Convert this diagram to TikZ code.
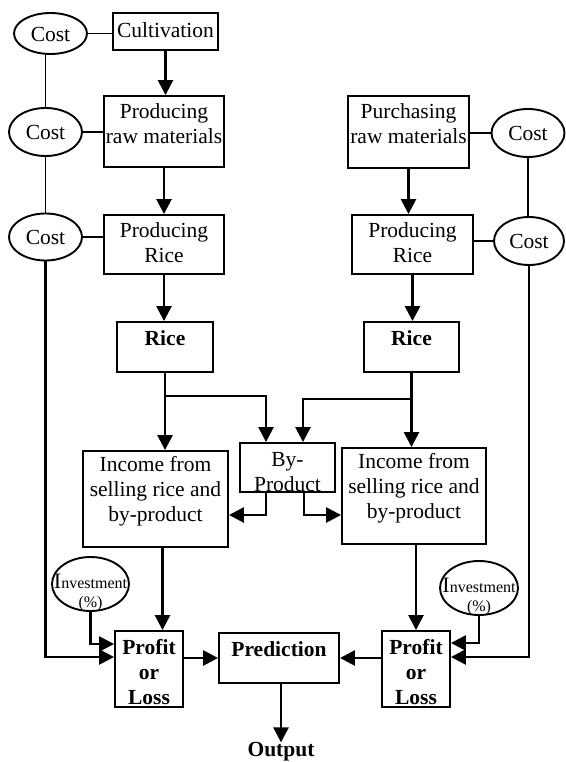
\documentclass[tikz,border=0pt]{standalone}
\usepackage{fontspec}
\setmainfont{Liberation Serif}
\usetikzlibrary{arrows.meta,shapes.geometric}
\begin{document}
\begin{tikzpicture}[x=1pt,y=-1pt,
  box/.style={draw,line width=1.9pt,inner sep=0pt},
  oval/.style={draw,ellipse,line width=1.9pt,inner sep=0pt},
  txt/.style={align=center,inner sep=0pt,font=\fontsize{21.5}{25}\selectfont},
  btxt/.style={align=center,inner sep=0pt,font=\fontsize{21.5}{25}\selectfont\bfseries},
  itxt/.style={align=center,inner sep=0pt,font=\fontsize{16}{19}\selectfont},
  arr/.style={line width=2.6pt,-{Triangle[length=15pt,width=15pt]}},
  ln/.style={line width=1.9pt}]
\useasboundingbox (0,0) rectangle (565,762);
% boxes
\node[box,minimum width=105pt,minimum height=37pt] (cult) at (165.5,31.5) {};
\node[box,minimum width=120pt,minimum height=71pt] (rawL) at (164,131.5) {};
\node[box,minimum width=120pt,minimum height=59pt] (prL) at (164,244.5) {};
\node[box,minimum width=96pt,minimum height=50pt] (riceL) at (165,347) {};
\node[box,minimum width=145pt,minimum height=96pt] (incL) at (155.5,499) {};
\node[box,minimum width=95pt,minimum height=49pt] (byp) at (287.5,467.5) {};
\node[box,minimum width=121pt,minimum height=72pt] (purch) at (408.5,132) {};
\node[box,minimum width=121pt,minimum height=59pt] (prR) at (412.5,244.5) {};
\node[box,minimum width=95pt,minimum height=50pt] (riceR) at (411.5,347) {};
\node[box,minimum width=144pt,minimum height=96pt] (incR) at (414,496) {};
\node[box,minimum width=68pt,minimum height=76pt] (profL) at (149,669) {};
\node[box,minimum width=120pt,minimum height=50pt] (pred) at (279,658) {};
\node[box,minimum width=68pt,minimum height=76pt] (profR) at (416,669) {};
% ellipses
\node[oval,minimum width=73pt,minimum height=41pt] (c1L) at (50.5,33.5) {};
\node[oval,minimum width=73pt,minimum height=48pt] (c2L) at (45.5,132) {};
\node[oval,minimum width=73pt,minimum height=47pt] (c3L) at (45.5,237) {};
\node[oval,minimum width=73pt,minimum height=48pt] (c1R) at (528,133) {};
\node[oval,minimum width=70pt,minimum height=48pt] (c2R) at (529,241) {};
\node[oval,minimum width=77pt,minimum height=54pt] (invL) at (90.5,584) {};
\node[oval,minimum width=78pt,minimum height=54pt] (invR) at (479,588) {};
% texts
\node[txt] (tcult) at (165.5,30) {Cultivation};
\node[txt] (trawL) at (164,124) {Producing\\raw materials};
\node[txt] (tprL) at (164,243) {Producing\\Rice};
\node[btxt] (triceL) at (165,338) {Rice};
\node[txt] (tincL) at (155.5,491) {Income from\\selling rice and\\by-product};
\node[txt] (tbyp) at (287.5,472) {By-\\Product};
\node[txt] (tpurch) at (408.5,124) {Purchasing\\raw materials};
\node[txt] (tprR) at (412.5,243) {Producing\\Rice};
\node[btxt] (triceR) at (411.5,338) {Rice};
\node[txt] (tincR) at (414,488) {Income from\\selling rice and\\by-product};
\node[btxt] (tprofL) at (149,672) {Profit\\or\\Loss};
\node[btxt] (tpred) at (279,649) {Prediction};
\node[btxt] (tprofR) at (416,672) {Profit\\or\\Loss};
\node[btxt] (out) at (281,752) {Output};
\node[txt] (tc1L) at (50.5,34) {Cost};
\node[txt] (tc2L) at (45.5,132) {Cost};
\node[txt] (tc3L) at (45.5,237) {Cost};
\node[txt] (tc1R) at (528,133) {Cost};
\node[txt] (tc2R) at (529,241) {Cost};
\node[itxt] (tinvL) at (90.5,592) {{\fontsize{22}{19}\selectfont I}nvestment\\(\%)};
\node[itxt] (tinvR) at (479,596) {{\fontsize{22}{19}\selectfont I}nvestment\\(\%)};
% cost connectors left
\draw[ln] (c1L.east) -- (c1L.east -| cult.west);
\draw[ln] (c2L.north) -- (c2L.north |- c1L.south);
\draw[ln] (c2L.east) -- (c2L.east -| rawL.west);
\draw[ln] (c3L.north) -- (c2L.south);
\draw[ln] (c3L.east) -- (c3L.east -| prL.west);
\draw[arr] (c3L.south) |- ([yshift=12pt]profL.west);
% cost connectors right
\draw[ln] (c1R.west) -- (c1R.west -| purch.east);
\draw[ln] (c1R.south) -- (c2R.north -| c1R.south);
\draw[ln] (c2R.west) -- (c2R.west -| prR.east);
\draw[arr] (c2R.south) |- ([yshift=12pt]profR.east);
% investments
\draw[arr] (invL.south) |- ([yshift=25pt]profL.west);
\draw[arr] (invR.south) |- ([yshift=26pt]profR.east);
% main flow left
\draw[arr] (cult.south) -- (cult.south |- rawL.north);
\draw[arr] (rawL.south) -- (rawL.south |- prL.north);
\draw[arr] (prL.south) -- (prL.south |- riceL.north);
\draw[arr] (riceL.south) -- (riceL.south |- incL.north);
\coordinate (bl) at ([xshift=-21.5pt]byp.north);
\coordinate (br) at ([xshift=15.5pt]byp.north);
\draw[arr] (riceL.south) ++(0,23) -| (bl);
\draw[arr] ([xshift=-21.5pt]byp.south) |- ([yshift=-16pt]incL.east);
\draw[arr] ([xshift=7pt]incL.south) -- ([xshift=7pt]incL.south |- profL.north);
% main flow right
\draw[arr] (purch.south) -- (purch.south |- prR.north);
\draw[arr] (prR.south) -- (prR.south |- riceR.north);
\draw[arr] (riceR.south) -- (riceR.south |- incR.north);
\draw[arr] (riceR.south) ++(0,26) -| (br);
\draw[arr] ([xshift=16.5pt]byp.south) |- ([yshift=-19pt]incR.east -| incR.west);
\draw[arr] (incR.south -| profR.north) -- (profR.north);
% prediction
\draw[arr] (profL.east |- pred.west) -- (pred.west);
\draw[arr] (profR.west |- pred.east) -- (pred.east);
\draw[arr] (pred.south -| out.north) -- (out.north);
\end{tikzpicture}
\end{document}
